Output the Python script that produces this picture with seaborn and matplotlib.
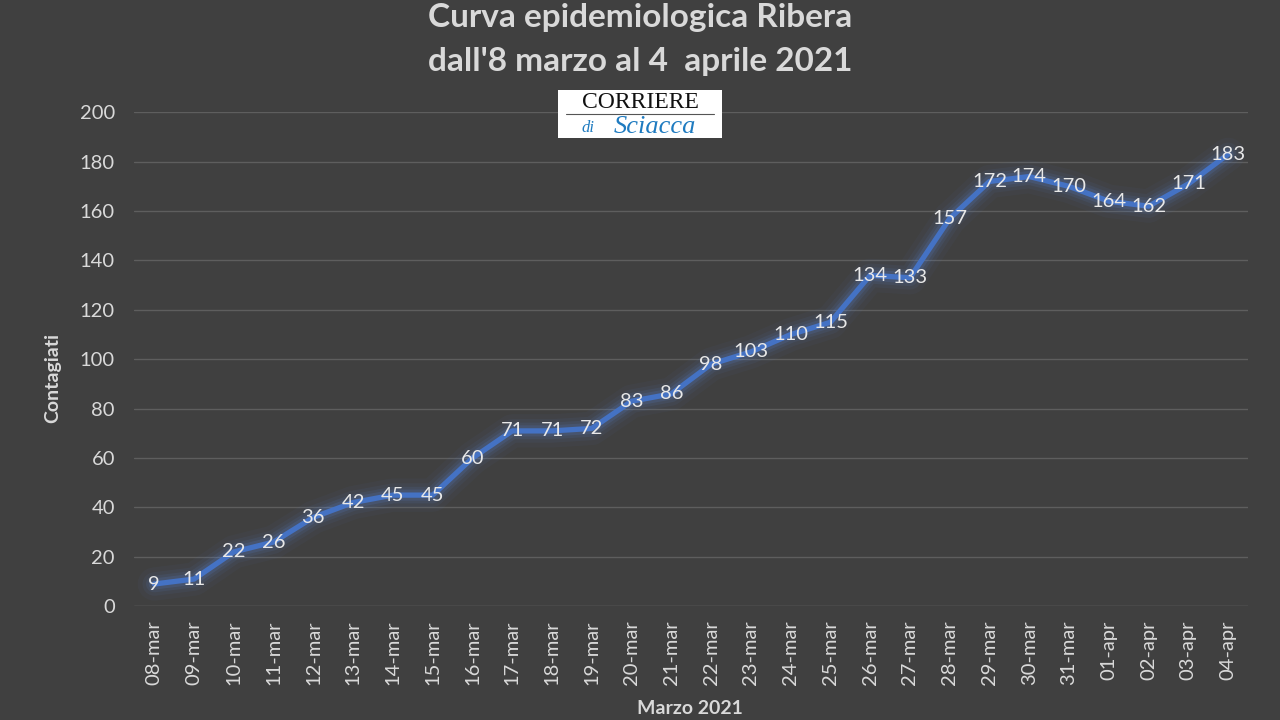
import matplotlib
matplotlib.use("Agg")
import matplotlib.pyplot as plt
import seaborn as sns
import pandas as pd
from matplotlib.patches import Rectangle

dates = ["08-mar", "09-mar", "10-mar", "11-mar", "12-mar", "13-mar", "14-mar",
         "15-mar", "16-mar", "17-mar", "18-mar", "19-mar", "20-mar", "21-mar",
         "22-mar", "23-mar", "24-mar", "25-mar", "26-mar", "27-mar", "28-mar",
         "29-mar", "30-mar", "31-mar", "01-apr", "02-apr", "03-apr", "04-apr"]
contagiati = [9, 11, 22, 26, 36, 42, 45, 45, 60, 71, 71, 72, 83, 86, 98, 103,
              110, 115, 134, 133, 157, 172, 174, 170, 164, 162, 171, 183]
yticks = [0, 20, 40, 60, 80, 100, 120, 140, 160, 180, 200]

BG = "#404040"
TXT = "#D9D9D9"
GRID = "#5E5E5E"
LINE = "#4472C4"

sns.set_theme(style="dark")
plt.rcParams['font.family'] = ['Lato', 'DejaVu Sans']

df = pd.DataFrame({"x": range(len(dates)), "y": contagiati})

fig = plt.figure(figsize=(12.8, 7.2), dpi=100, facecolor=BG)
ax = fig.add_axes([0.105, 0.158, 0.87, 0.686])
ax.set_facecolor(BG)

# glow
for lw, a in [(24, 0.04), (17, 0.06), (12, 0.09), (8, 0.14)]:
    sns.lineplot(data=df, x="x", y="y", ax=ax, color="#5B8BE0", lw=lw, alpha=a,
                 solid_capstyle="round", solid_joinstyle="round")
sns.lineplot(data=df, x="x", y="y", ax=ax, color=LINE, lw=3.8,
             solid_capstyle="round", solid_joinstyle="round")

for i, v in enumerate(contagiati):
    ax.text(i, v, str(v), ha="center", va="center", color="#E8E8E8", fontsize=14.5)

ax.set_xlim(-0.5, len(dates) - 0.5)
ax.set_ylim(0, 200)
ax.set_yticks(yticks)
ax.set_yticklabels([str(t) for t in yticks], color=TXT, fontsize=14.5)
ax.set_xticks(range(len(dates)))
ax.set_xticklabels(dates, rotation=90, color=TXT, fontsize=14.5)
ax.tick_params(axis="x", length=0, pad=10)
ax.tick_params(axis="y", length=0, pad=14)
ax.grid(axis="y", color=GRID, lw=1)
ax.grid(axis="x", visible=False)
for s in ax.spines.values():
    s.set_visible(False)
ax.axhline(0, color=GRID, lw=1)

ax.set_xlabel("")
ax.set_ylabel("")
fig.text(690 / 1280, 1 - 709 / 720, "Marzo 2021", ha="center", va="center",
         color=TXT, fontsize=14, fontweight="bold")
fig.text(53 / 1280, 1 - 378 / 720, "Contagiati", ha="center", va="center",
         rotation=90, color=TXT, fontsize=14, fontweight="bold")

fig.text(0.5, 0.975, "Curva epidemiologica Ribera", ha="center", va="center",
         color=TXT, fontsize=24, fontweight="bold")
fig.text(0.5, 0.915, "dall'8 marzo al 4  aprile 2021", ha="center", va="center",
         color=TXT, fontsize=24, fontweight="bold")

# logo
fig.patches.append(Rectangle((558 / 1280, 1 - 138 / 720), 164 / 1280, 48 / 720,
                             transform=fig.transFigure, facecolor="white",
                             edgecolor="none", zorder=5))
fig.text(640 / 1280, 1 - 102 / 720, "CORRIERE", ha="center", va="center",
         family="Liberation Serif", fontsize=17, color="#111111", zorder=6)
fig.lines.append(plt.Line2D([566 / 1280, 714 / 1280], [1 - 114 / 720, 1 - 114 / 720],
                            transform=fig.transFigure, color="#555555", lw=0.8, zorder=6))
fig.text(588 / 1280, 1 - 128 / 720, "di", ha="center", va="center",
         family="Liberation Serif", style="italic", fontsize=12, color="#1F7BC0", zorder=6)
fig.text(655 / 1280, 1 - 127 / 720, "Sciacca", ha="center", va="center",
         family="Liberation Serif", style="italic", fontsize=19, color="#1F7BC0", zorder=6)

fig.savefig("out.png", dpi=100, facecolor=BG)
